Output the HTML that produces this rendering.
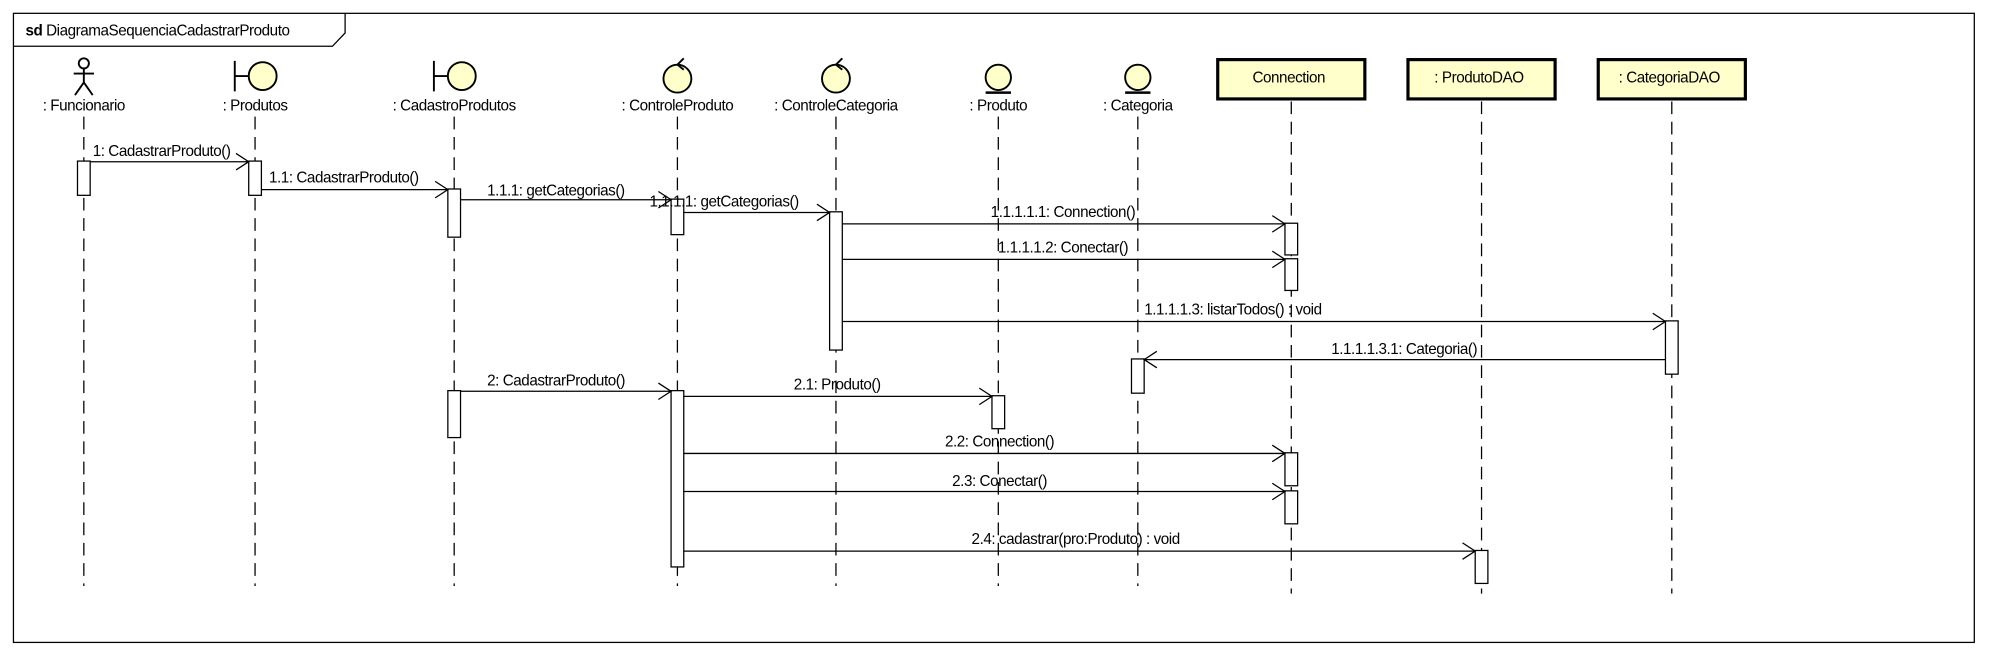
<!DOCTYPE html>
<html><head><meta charset="utf-8"><style>
html,body{margin:0;padding:0;background:#fff;width:1989px;height:657px;overflow:hidden}
svg{display:block}
text{font-family:"Liberation Sans Narrow","Liberation Sans",sans-serif;font-size:12px;letter-spacing:-0.35px;fill:#000}
.ll{stroke:#000;stroke-width:1;stroke-dasharray:10,6}
.a{fill:#fff;stroke:#000;stroke-width:1}
.m{stroke:#000;stroke-width:1;fill:none}
.ic{fill:#ffffcc;stroke:#000;stroke-width:1.5}
.bx{fill:#ffffcc;stroke:#000;stroke-width:2.5}
</style></head><body>
<svg width="1989" height="657" viewBox="0 0 1568 518" xmlns="http://www.w3.org/2000/svg">
<rect x="0" y="0" width="1568" height="518" fill="#fff"/>
<rect x="10.5" y="10.5" width="1546" height="496" fill="none" stroke="#000"/>
<path d="M10.5 36.5 H262 L272 26 V10.5" fill="none" stroke="#000"/>
<text x="20" y="28"><tspan font-weight="bold">sd</tspan> DiagramaSequenciaCadastrarProduto</text>

<line class="ll" x1="66" y1="92" x2="66" y2="462"/>
<line class="ll" x1="201" y1="92" x2="201" y2="462"/>
<line class="ll" x1="358" y1="92" x2="358" y2="462"/>
<line class="ll" x1="534" y1="92" x2="534" y2="462"/>
<line class="ll" x1="659" y1="92" x2="659" y2="462"/>
<line class="ll" x1="787" y1="92" x2="787" y2="462"/>
<line class="ll" x1="897" y1="92" x2="897" y2="462"/>
<line class="ll" x1="1018" y1="80" x2="1018" y2="468"/>
<line class="ll" x1="1168" y1="80" x2="1168" y2="468"/>
<line class="ll" x1="1318" y1="80" x2="1318" y2="468"/>

<circle cx="66" cy="50" r="4" fill="#fff" stroke="#000" stroke-width="1.5"/>
<path d="M66 54 V65 M58 58 H74 M66 65 L59 75 M66 65 L73 75" stroke="#000" stroke-width="1.5" fill="none"/>
<text x="66" y="87" text-anchor="middle">: Funcionario</text>
<circle class="ic" cx="207" cy="60" r="11"/><path d="M185 48 V72 M185 60 H196" stroke="#000" stroke-width="1.5"/>
<text x="201" y="87" text-anchor="middle">: Produtos</text>
<circle class="ic" cx="364" cy="60" r="11"/><path d="M342 48 V72 M342 60 H353" stroke="#000" stroke-width="1.5"/>
<text x="358" y="87" text-anchor="middle">: CadastroProdutos</text>
<circle class="ic" cx="534" cy="62" r="11"/><path d="M534 51 L539 46 M534 51 L539 55" stroke="#000" stroke-width="1.5" fill="none"/>
<text x="534" y="87" text-anchor="middle">: ControleProduto</text>
<circle class="ic" cx="659" cy="62" r="11"/><path d="M659 51 L664 46 M659 51 L664 55" stroke="#000" stroke-width="1.5" fill="none"/>
<text x="659" y="87" text-anchor="middle">: ControleCategoria</text>
<circle class="ic" cx="787" cy="61" r="10"/><path d="M777 73 H797" stroke="#000" stroke-width="2"/>
<text x="787" y="87" text-anchor="middle">: Produto</text>
<circle class="ic" cx="897" cy="61" r="10"/><path d="M887 73 H907" stroke="#000" stroke-width="2"/>
<text x="897" y="87" text-anchor="middle">: Categoria</text>
<rect class="bx" x="960" y="47" width="116" height="31"/><text x="1016" y="65" text-anchor="middle">Connection</text>
<rect class="bx" x="1110" y="47" width="116" height="31"/><text x="1166" y="65" text-anchor="middle">: ProdutoDAO</text>
<rect class="bx" x="1260" y="47" width="116" height="31"/><text x="1316" y="65" text-anchor="middle">: CategoriaDAO</text>

<rect class="a" x="61" y="127" width="10" height="27"/>
<rect class="a" x="196" y="127" width="10" height="27"/>
<rect class="a" x="353" y="149" width="10" height="38"/>
<rect class="a" x="529" y="157" width="10" height="28"/>
<rect class="a" x="654" y="167" width="10" height="109"/>
<rect class="a" x="1013" y="176" width="10" height="25"/>
<rect class="a" x="1013" y="204" width="10" height="25"/>
<rect class="a" x="1313" y="253" width="10" height="42"/>
<rect class="a" x="892" y="283" width="10" height="27"/>
<rect class="a" x="353" y="308" width="10" height="37"/>
<rect class="a" x="529" y="308" width="10" height="139"/>
<rect class="a" x="782" y="312" width="10" height="26"/>
<rect class="a" x="1013" y="357" width="10" height="26"/>
<rect class="a" x="1013" y="387" width="10" height="26"/>
<rect class="a" x="1163" y="434" width="10" height="26"/>

<g class="m">
<path d="M71 127.5 H196 M186 121 L196 127.5 L186 134"/>
<path d="M206 149.5 H353 M343 143 L353 149.5 L343 156"/>
<path d="M363 157.5 H529 M519 151 L529 157.5 L519 164"/>
<path d="M539 167.5 H654 M644 161 L654 167.5 L644 174"/>
<path d="M664 176.5 H1013 M1003 170 L1013 176.5 L1003 183"/>
<path d="M664 204.5 H1013 M1003 198 L1013 204.5 L1003 211"/>
<path d="M664 253.5 H1313 M1303 247 L1313 253.5 L1303 260"/>
<path d="M1313 283.5 H902 M912 277 L902 283.5 L912 290"/>
<path d="M363 308.5 H529 M519 302 L529 308.5 L519 315"/>
<path d="M539 312.5 H782 M772 306 L782 312.5 L772 319"/>
<path d="M539 357.5 H1013 M1003 351 L1013 357.5 L1003 364"/>
<path d="M539 387.5 H1013 M1003 381 L1013 387.5 L1003 394"/>
<path d="M539 434.5 H1163 M1153 428 L1163 434.5 L1153 441"/>
</g>
<text x="73" y="123">1: CadastrarProduto()</text>
<text x="212" y="144">1.1: CadastrarProduto()</text>
<text x="384" y="154">1.1.1: getCategorias()</text>
<text x="512" y="163">1.1.1.1: getCategorias()</text>
<text x="838" y="171" text-anchor="middle">1.1.1.1.1: Connection()</text>
<text x="838" y="199" text-anchor="middle">1.1.1.1.2: Conectar()</text>
<text x="972" y="248" text-anchor="middle">1.1.1.1.3: listarTodos() : void</text>
<text x="1107" y="279" text-anchor="middle">1.1.1.1.3.1: Categoria()</text>
<text x="384" y="304">2: CadastrarProduto()</text>
<text x="660" y="307" text-anchor="middle">2.1: Produto()</text>
<text x="788" y="352" text-anchor="middle">2.2: Connection()</text>
<text x="788" y="383" text-anchor="middle">2.3: Conectar()</text>
<text x="848" y="429" text-anchor="middle">2.4: cadastrar(pro:Produto) : void</text>
</svg>
</body></html>
